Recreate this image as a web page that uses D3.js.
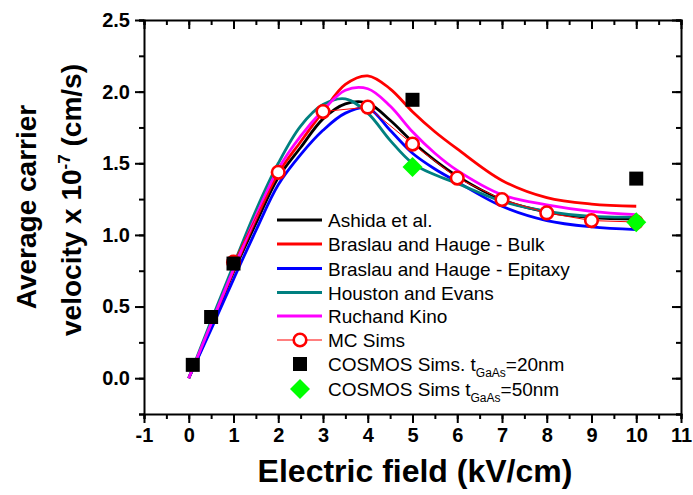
<!DOCTYPE html>
<html><head><meta charset="utf-8">
<script src="https://cdn.jsdelivr.net/npm/d3@7"></script>
<style>
body{margin:0;background:#fff;}
svg{display:block;font-family:"Liberation Sans",Arial,sans-serif;}
</style></head>
<body><svg id="c" width="693" height="495"></svg>
<script>
const fieldX = [0,0.5,1,1.5,2,2.5,3,3.5,4,4.5,5,5.5,6,7,8,9,10];
const ashida   = [0,0.36,0.74,1.08,1.40,1.61,1.81,1.915,1.92,1.80,1.65,1.52,1.41,1.245,1.16,1.12,1.11];
const brasBulk = [0,0.37,0.75,1.11,1.43,1.65,1.86,2.05,2.11,2.02,1.86,1.72,1.60,1.38,1.26,1.215,1.20];
const brasEpi  = [0,0.34,0.69,1.03,1.35,1.56,1.73,1.85,1.885,1.73,1.57,1.46,1.37,1.20,1.10,1.056,1.037];
const houston  = [0,0.40,0.79,1.17,1.50,1.76,1.91,1.95,1.85,1.66,1.50,1.42,1.36,1.235,1.165,1.13,1.125];
const ruchand  = [0,0.38,0.76,1.13,1.46,1.69,1.87,2.01,2.02,1.90,1.72,1.57,1.45,1.28,1.21,1.165,1.142];
const mcX = [1,2,3,4,5,6,7,8,9,10];
const mcV = [0.81,1.437,1.861,1.892,1.634,1.397,1.247,1.154,1.10,1.09];
const cos20X = [0.09,0.5,1,5,10];
const cos20V = [0.093,0.427,0.80,1.943,1.393];
const cos50X = [5,10];
const cos50V = [1.474,1.088];
const xTicks = [-1,0,1,2,3,4,5,6,7,8,9,10,11];
const yTicks = [0.0,0.5,1.0,1.5,2.0,2.5];

const svg = d3.select("#c");
const L=144,R=681,T=20,B=414;
const x = d3.scaleLinear().domain([-1,11]).range([L,R]);
const y = d3.scaleLinear().domain([-0.25,2.5]).range([B,T]);

const xMinor = d3.range(-1,11.01,0.5);
const yMinor = d3.range(-0.25,2.51,0.25);
function styleAxis(g){g.selectAll("path,line").attr("stroke","#000").attr("stroke-width",2);}
function styleText(g){g.selectAll("text").attr("font-size",20).attr("font-weight","bold").attr("fill","#000").attr("font-family","Liberation Sans, Arial");}
const gb = svg.append("g").attr("transform",`translate(0,${B})`);
gb.call(d3.axisBottom(x).tickValues(xMinor).tickSize(5).tickFormat("")).call(styleAxis);
gb.append("g").call(d3.axisBottom(x).tickValues(xTicks).tickSize(9).tickFormat(d=>String(d)).tickPadding(5))
  .call(styleAxis).call(g=>g.select(".domain").remove()).call(styleText);
const gt = svg.append("g").attr("transform",`translate(0,${T})`);
gt.call(d3.axisBottom(x).tickValues(xMinor).tickSize(5).tickFormat("")).call(styleAxis);
gt.append("g").call(d3.axisBottom(x).tickValues(xTicks).tickSize(9).tickFormat("")).call(styleAxis).call(g=>g.select(".domain").remove());
const gl = svg.append("g").attr("transform",`translate(${L},0)`);
gl.call(d3.axisLeft(y).tickValues(yMinor).tickSize(5).tickFormat("")).call(styleAxis);
gl.append("g").call(d3.axisLeft(y).tickValues(yTicks).tickSize(9).tickFormat(d3.format(".1f")).tickPadding(5))
  .call(styleAxis).call(g=>g.select(".domain").remove()).call(styleText);
const gr = svg.append("g").attr("transform",`translate(${R},0)`);
gr.call(d3.axisRight(y).tickValues(yMinor).tickSize(-5).tickFormat("")).call(styleAxis);
gr.append("g").call(d3.axisRight(y).tickValues(yTicks).tickSize(-9).tickFormat("")).call(styleAxis).call(g=>g.select(".domain").remove());

const series = [
  {name:"Ashida et al.", v:ashida, c:"#000000"},
  {name:"Braslau and Hauge - Bulk", v:brasBulk, c:"#ff0000"},
  {name:"Braslau and Hauge - Epitaxy", v:brasEpi, c:"#0000ff"},
  {name:"Houston and Evans", v:houston, c:"#008080"},
  {name:"Ruchand Kino", v:ruchand, c:"#ff00ff"}
];
const line = d3.line().x(d=>x(d[0])).y(d=>y(d[1])).curve(d3.curveCatmullRom.alpha(0.5));
const plot = svg.append("g");
series.forEach(s=>{
  plot.append("path").datum(fieldX.map((xx,i)=>[xx,s.v[i]])).attr("d",line)
    .attr("fill","none").attr("stroke",s.c).attr("stroke-width",2.8);
});
const mcData = mcX.map((xx,i)=>[xx,mcV[i]]);
plot.append("path").datum(mcData).attr("d",d3.line().x(d=>x(d[0])).y(d=>y(d[1])))
  .attr("fill","none").attr("stroke","#ff0000").attr("stroke-width",1);
plot.selectAll("circle.mc").data(mcData).join("circle").attr("class","mc")
  .attr("cx",d=>x(d[0])).attr("cy",d=>y(d[1])).attr("r",6.3)
  .attr("fill","#fff").attr("stroke","#ff0000").attr("stroke-width",2.6);
const sq = d3.symbol().type(d3.symbolSquare).size(196);
plot.selectAll("path.c20").data(cos20X.map((xx,i)=>[xx,cos20V[i]])).join("path").attr("class","c20")
  .attr("d",sq).attr("transform",d=>`translate(${x(d[0])},${y(d[1])})`).attr("fill","#000");
const dia = d3.symbol().type(d3.symbolSquare).size(200);
plot.selectAll("path.c50").data(cos50X.map((xx,i)=>[xx,cos50V[i]])).join("path").attr("class","c50")
  .attr("d",dia).attr("transform",d=>`translate(${x(d[0])},${y(d[1])}) rotate(45)`).attr("fill","#00ff00");

const lg = svg.append("g");
const lx1=277, lx2=322, tx=328, rows=[220,244,268.5,292.5,316,340,364,389];
const fs=19;
series.forEach((s,i)=>{
  lg.append("line").attr("x1",lx1).attr("x2",lx2).attr("y1",rows[i]).attr("y2",rows[i]).attr("stroke",s.c).attr("stroke-width",2.8);
  lg.append("text").attr("x",tx).attr("y",rows[i]+7).attr("font-size",fs).text(s.name);
});
lg.append("line").attr("x1",lx1).attr("x2",lx2).attr("y1",rows[5]).attr("y2",rows[5]).attr("stroke","#ff0000").attr("stroke-width",1);
lg.append("circle").attr("cx",300).attr("cy",rows[5]).attr("r",6.3).attr("fill","#fff").attr("stroke","#ff0000").attr("stroke-width",2.6);
lg.append("text").attr("x",tx).attr("y",rows[5]+7).attr("font-size",fs).text("MC Sims");
lg.append("path").attr("d",sq).attr("transform",`translate(300,${rows[6]})`).attr("fill","#000");
const t6 = lg.append("text").attr("x",tx).attr("y",rows[6]+7).attr("font-size",fs);
t6.append("tspan").text("COSMOS Sims. t");
t6.append("tspan").attr("font-size",12).attr("dy",6).text("GaAs");
t6.append("tspan").attr("dy",-6).text("=20nm");
lg.append("path").attr("d",dia).attr("transform",`translate(300,${rows[7]}) rotate(45)`).attr("fill","#00ff00");
const t7 = lg.append("text").attr("x",tx).attr("y",rows[7]+7).attr("font-size",fs);
t7.append("tspan").text("COSMOS Sims t");
t7.append("tspan").attr("font-size",12).attr("dy",6).text("GaAs");
t7.append("tspan").attr("dy",-6).text("=50nm");

svg.append("text").attr("x",415).attr("y",482).attr("text-anchor","middle")
  .attr("font-size",32).attr("font-weight","bold").text("Electric field (kV/cm)");
svg.append("text").attr("transform","translate(36,207) rotate(-90)").attr("text-anchor","middle")
  .attr("font-size",28).attr("font-weight","bold").text("Average carrier");
const yt2 = svg.append("text").attr("transform","translate(81,200) rotate(-90)").attr("text-anchor","middle")
  .attr("font-size",28).attr("font-weight","bold");
yt2.append("tspan").text("velocity x 10");
yt2.append("tspan").attr("font-size",17).attr("dy",-11).text("-7");
yt2.append("tspan").attr("dy",11).text(" (cm/s)");
</script></body></html>
